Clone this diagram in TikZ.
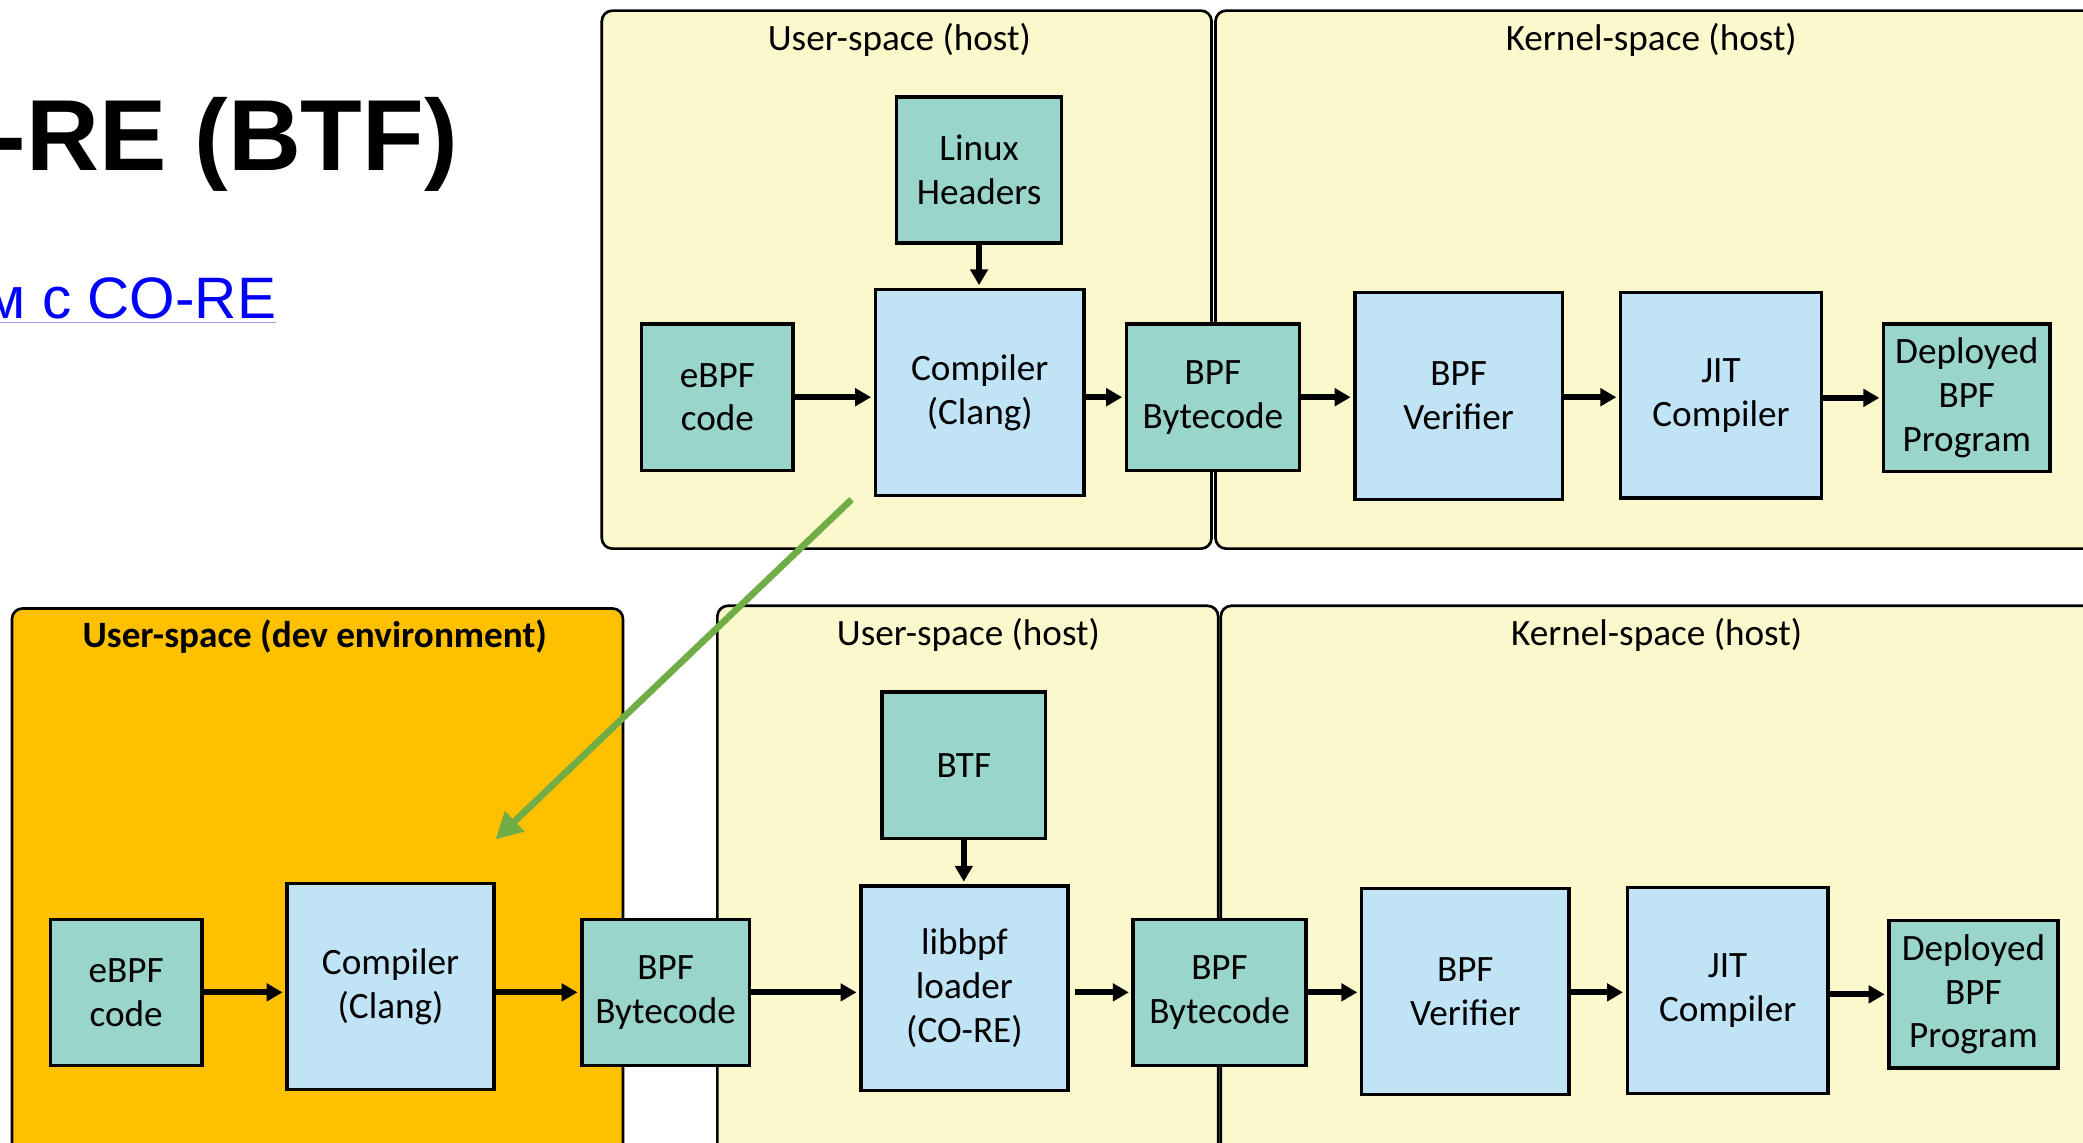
\documentclass[tikz,border=0pt]{standalone}
\usepackage{fontspec}
\setmainfont{Carlito}
\newfontfamily\titlefont{Liberation Sans}
\usetikzlibrary{arrows.meta}
\definecolor{tealfill}{HTML}{9AD5CB}
\definecolor{bluefill}{HTML}{C0E4F6}
\definecolor{yelfill}{HTML}{FBF9CB}
\definecolor{orngfill}{HTML}{FFC000}
\definecolor{grnline}{HTML}{70AD47}
\definecolor{linkblue}{HTML}{0000FF}
\definecolor{ulblue}{HTML}{9999FF}
\begin{document}
\begin{tikzpicture}[x=1pt,y=-1pt,
  container/.style={draw=black, line width=2pt, rounded corners=8pt, fill=yelfill},
  devcontainer/.style={container, fill=orngfill},
  boxbase/.style={draw=black, line width=2.6pt, align=center, inner sep=0pt,
    font=\fontsize{28}{33}\selectfont},
  tealbox/.style={boxbase, fill=tealfill},
  bluebox/.style={boxbase, fill=bluefill},
  smallbox/.style={minimum width=#1, minimum height=110},
  bigbox/.style={minimum width=#1, minimum height=155},
  ctitle/.style={inner sep=0pt, font=\fontsize{28}{32}\selectfont},
  arr/.style={line width=4.5pt, -{Triangle[length=12pt,width=13pt]}, shorten >=2pt},
  grnarr/.style={draw=grnline, line width=5pt, -{Triangle[length=20pt,width=20pt]}}
]
\useasboundingbox (0,0) rectangle (1568,860);
\fill[white] (0,0) rectangle (1568,860);

% heading texts
\node[anchor=base east, inner sep=0pt, font=\titlefont\bfseries\fontsize{76}{80}\selectfont] (title) at (345,128) {-RE (BTF)};
\node[anchor=base east, inner sep=0pt, text=linkblue, font=\titlefont\fontsize{44}{50}\selectfont] (link) at (208,240) {м с CO-RE};
\draw[ulblue, line width=1pt] ([yshift=-3pt]link.base west) -- ([yshift=-3pt]link.base east);

% ---------- top row containers ----------
\draw[container] (453,8) rectangle (912,413);
\draw[container] (915,8) rectangle (1600,413);
\node[ctitle] (tu) at (677,30) {User-space (host)};
\node[ctitle] (tk) at (1243,30) {Kernel-space (host)};

% ---------- bottom row containers ----------
\draw[devcontainer] (9,458) rectangle (469,900);
\draw[container] (540,456) rectangle (917,900);
\draw[container] (919,456) rectangle (1600,900);
\node[ctitle, font=\bfseries\fontsize{28}{32}\selectfont] (td) at (237,479) {User-space (dev environment)};
\node[ctitle] (bu) at (729,478) {User-space (host)};
\node[ctitle] (bk) at (1247,478) {Kernel-space (host)};

% ---------- top row boxes ----------
\node[tealbox, smallbox=124] (lh) at (737,128) {Linux\\Headers};
\node[tealbox, smallbox=114] (ebpf1) at (540,299) {eBPF\\code};
\node[bluebox, bigbox=157] (comp1) at (737.5,295.5) {Compiler\\(Clang)};
\node[tealbox, smallbox=130] (bc1) at (913,299) {BPF\\Bytecode};
\node[bluebox, minimum width=156, minimum height=156] (ver1) at (1098,298) {BPF\\Verifier};
\node[bluebox, bigbox=151] (jit1) at (1295.5,297.5) {JIT\\Compiler};
\node[tealbox, minimum width=125, minimum height=111] (dep1) at (1480.5,299.5) {Deployed\\BPF\\Program};

\draw[arr] (lh.south) -- (lh.south |- comp1.north);
\draw[arr] (ebpf1.east) -- (ebpf1.east -| comp1.west);
\draw[arr] (comp1.east |- bc1.west) -- (bc1.west);
\draw[arr] (bc1.east) -- (bc1.east -| ver1.west);
\draw[arr] (ver1.east |- bc1.east) -- (bc1.east -| jit1.west);
\draw[arr] (jit1.east |- dep1.west) -- (dep1.west);

% ---------- bottom row boxes ----------
\node[tealbox, smallbox=114] (ebpf2) at (95,747) {eBPF\\code};
\node[bluebox, bigbox=156] (comp2) at (294,742.5) {Compiler\\(Clang)};
\node[tealbox, smallbox=126] (bc2) at (501,747) {BPF\\Bytecode};
\node[tealbox, smallbox=123] (btf) at (725.5,576) {BTF};
\node[bluebox, minimum width=156, minimum height=154] (lib) at (726,744) {libbpf\\loader\\(CO-RE)};
\node[tealbox, smallbox=130] (bc3) at (918,747) {BPF\\Bytecode};
\node[bluebox, bigbox=156] (ver2) at (1103,746.5) {BPF\\Verifier};
\node[bluebox, bigbox=151] (jit2) at (1300.5,745.5) {JIT\\Compiler};
\node[tealbox, minimum width=127, minimum height=111] (dep2) at (1485.5,748.5) {Deployed\\BPF\\Program};

\draw[arr] (btf.south) -- (btf.south |- lib.north);
\draw[arr] (ebpf2.east) -- (ebpf2.east -| comp2.west);
\draw[arr] (comp2.east |- bc2.west) -- (bc2.west);
\draw[arr] (bc2.east) -- (bc2.east -| lib.west);
\draw[arr, shorten <=4pt] (lib.east |- bc3.west) -- (bc3.west);
\draw[arr] (bc3.east) -- (bc3.east -| ver2.west);
\draw[arr] (ver2.east |- bc3.east) -- (bc3.east -| jit2.west);
\draw[arr] (jit2.east |- dep2.west) -- (dep2.west);

% ---------- green arrow ----------
\coordinate (gs) at (641,376);
\coordinate (ge) at (373,632);
\draw[grnarr] (gs) -- (ge);
\end{tikzpicture}
\end{document}
